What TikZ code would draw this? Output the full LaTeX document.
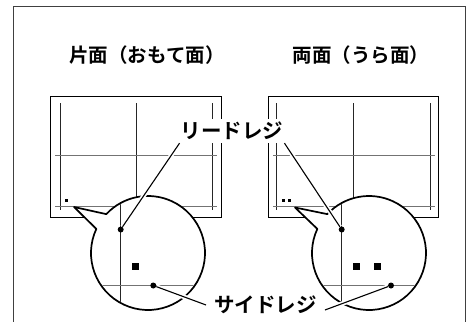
\documentclass[tikz,border=0pt]{standalone}
\usepackage{fontspec}
\newfontfamily\jpfont{Noto Sans CJK JP}[UprightFont=* Bold]
\usetikzlibrary{positioning}

\begin{document}
\begin{tikzpicture}[x=1pt,y=-1pt,
  frameline/.style={black!75,line width=1.2pt},
  sheet/.style={draw,line width=1.3pt},
  vline/.style={black!85,line width=0.6pt},
  hline/.style={black!55,line width=0.9pt},
  balloon/.style={draw,fill=white,line width=1.7pt,line join=round},
  leader/.style={line width=1.1pt,preaction={draw,white,line width=4.5pt}},
  pin/.style={circle,fill,inner sep=0pt,minimum size=6pt},
  speck/.style={fill,inner sep=0pt,minimum size=2.5pt},
  chip/.style={fill,inner sep=0pt,minimum size=7pt},
  tag/.style={fill=white,inner sep=3pt,font=\jpfont\fontsize{20.5}{20.5}\selectfont},
  heading/.style={inner sep=0pt,font=\jpfont\fontsize{19.5}{19.5}\selectfont}]
\useasboundingbox (0,0) rectangle (467,322);
\draw[frameline] (13.3,322) -- (13.3,6.7) -- (465.7,6.7) -- (465.7,322);

\node[heading] (front) at (147,55) {片面（おもて面）};
\node[heading] (back) at (361,55) {両面（うら面）};

% left sheet
\draw[sheet] (50.7,96.7) rectangle (221.7,217.3);
\foreach \x in {60,136,212.3} \draw[vline] (\x,103) -- (\x,210);
\foreach \y in {155,206} \draw[hline] (55,\y) -- (216.7,\y);
\node[speck] (sl) at (66.7,200.7) {};

% right sheet
\draw[sheet] (268.3,96.7) rectangle (438.3,217.3);
\foreach \x in {276.7,353.3,430} \draw[vline] (\x,103) -- (\x,210);
\foreach \y in {155,206} \draw[hline] (273.3,\y) -- (435,\y);
\node[speck] (sr1) at (283.3,200.7) {};
\node[speck] (sr2) at (289.3,200.7) {};

% balloons
\coordinate (cl) at (148,253);
\coordinate (cr) at (369,253);
\draw[balloon] ([shift={(155:57pt)}]cl) arc[start angle=155,end angle=497,radius=57pt] -- (74,207) -- cycle;
\draw[balloon] ([shift={(155:57pt)}]cr) arc[start angle=155,end angle=497,radius=57pt] -- (295,207.5) -- cycle;
\begin{scope}
  \clip (cl) circle[radius=56pt];
  \draw[vline] (120.7,190) -- (120.7,320);
  \draw[hline] (85,285.5) -- (210,285.5);
\end{scope}
\begin{scope}
  \clip (cr) circle[radius=56pt];
  \draw[vline] (341.7,190) -- (341.7,320);
  \draw[hline] (306,285.5) -- (431,285.5);
\end{scope}
\node[chip] (ql) at (135.7,266.7) {};
\node[chip] (qr1) at (356.7,266.7) {};
\node[chip] (qr2) at (377.7,266.7) {};

% pins and leaders
\node[pin] (pl1) at (120.7,229.5) {};
\node[pin] (pl2) at (153.3,285.5) {};
\node[pin] (pr1) at (341.7,229.5) {};
\node[pin] (pr2) at (391,285.5) {};
\node[tag] (lead) at (232,131) {リードレジ};
\node[tag,inner xsep=8pt] (side) at (265.5,305) {サイドレジ};
\draw[leader] (pl1) -- ([xshift=2pt]lead.south west);
\draw[leader] (pr1) -- ([xshift=-2pt]lead.south east);
\draw[leader] (pl2) -- (side.west);
\draw[leader] (pr2) -- ([yshift=-5pt]side.east);
\end{tikzpicture}
\end{document}
